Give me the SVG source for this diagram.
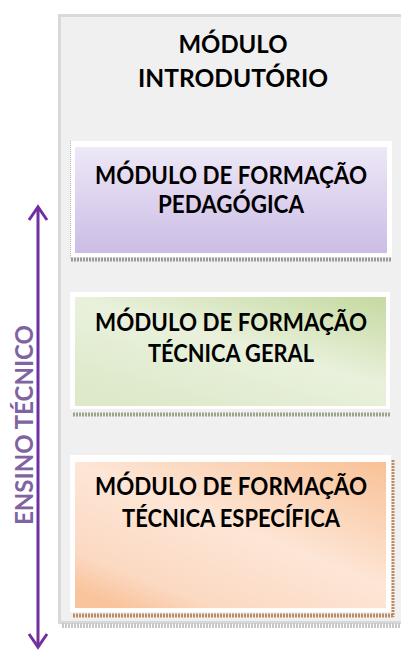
<svg xmlns="http://www.w3.org/2000/svg" width="401" height="650" viewBox="0 0 401 650">
<defs>
<style>
.t{font-family:Lato,"Liberation Sans",Arial,sans-serif;font-weight:bold;font-size:24px;fill:#000;text-anchor:middle}
.v{font-family:Lato,"Liberation Sans",Arial,sans-serif;font-weight:bold;font-size:24px;fill:#8064a2;text-anchor:middle}
.frame{fill:#fff}
.arrow{stroke:#7030a0;stroke-width:3;fill:none}
</style>
<linearGradient id="gp" x1="0" y1="0" x2="0" y2="1">
<stop offset="0" stop-color="#eee8f7"/>
<stop offset="1" stop-color="#cbbde5"/>
</linearGradient>
<linearGradient id="gg" x1="1" y1="0" x2="0.2" y2="1">
<stop offset="0" stop-color="#c5d9a0"/>
<stop offset="0.5" stop-color="#e9f1dc"/>
<stop offset="1" stop-color="#dde9c9"/>
</linearGradient>
<linearGradient id="go" x1="1" y1="0" x2="0.15" y2="1">
<stop offset="0" stop-color="#f9c196"/>
<stop offset="0.5" stop-color="#fde6d6"/>
<stop offset="0.85" stop-color="#fbd9c2"/>
<stop offset="1" stop-color="#f9c49c"/>
</linearGradient>
</defs>
<rect width="401" height="650" fill="#fff"/>
<g id="panel">
<rect x="59.5" y="15.5" width="345" height="607" fill="#f0f0f0" stroke="#d9d9d9" stroke-width="3"/>
<line x1="62" y1="625.5" x2="401" y2="625.5" stroke="#c8c8c8" stroke-width="5" stroke-dasharray="2 1"/>
<text class="t" x="233" y="53" textLength="109" lengthAdjust="spacingAndGlyphs">MÓDULO</text>
<text class="t" x="233" y="87" textLength="190" lengthAdjust="spacingAndGlyphs">INTRODUTÓRIO</text>
</g>
<g id="pedagogica">
<line x1="71" y1="259.5" x2="392" y2="259.5" stroke="#9a9a9a" stroke-width="4" stroke-dasharray="2 1"/>
<line x1="70.5" y1="141" x2="70.5" y2="258" stroke="#bbb" stroke-width="1" stroke-dasharray="1 1"/>
<rect class="frame" x="71" y="141" width="321" height="116"/>
<rect x="75" y="147" width="312" height="106" fill="url(#gp)"/>
<text class="t" x="231" y="184" textLength="272" lengthAdjust="spacingAndGlyphs">MÓDULO DE FORMAÇÃO</text>
<text class="t" x="231" y="213" textLength="146" lengthAdjust="spacingAndGlyphs">PEDAGÓGICA</text>
</g>
<g id="tecnica-geral">
<line x1="73" y1="414.5" x2="390" y2="414.5" stroke="#9aa58a" stroke-width="4" stroke-dasharray="2 1"/>
<rect class="frame" x="70" y="292" width="320" height="117"/>
<rect x="75" y="297" width="311" height="109" fill="url(#gg)"/>
<text class="t" x="231" y="331" textLength="272" lengthAdjust="spacingAndGlyphs">MÓDULO DE FORMAÇÃO</text>
<text class="t" x="231" y="362" textLength="166" lengthAdjust="spacingAndGlyphs">TÉCNICA GERAL</text>
</g>
<g id="tecnica-especifica">
<line x1="73" y1="615.5" x2="394" y2="615.5" stroke="#c08a60" stroke-width="4" stroke-dasharray="2 1"/>
<line x1="393" y1="460" x2="393" y2="617" stroke="#c08a60" stroke-width="3" stroke-dasharray="2 1"/>
<rect class="frame" x="70" y="455" width="321" height="157"/>
<rect x="75" y="462" width="311" height="146" fill="url(#go)"/>
<text class="t" x="231" y="495" textLength="272" lengthAdjust="spacingAndGlyphs">MÓDULO DE FORMAÇÃO</text>
<text class="t" x="231" y="527" textLength="218" lengthAdjust="spacingAndGlyphs">TÉCNICA ESPECÍFICA</text>
</g>
<g id="connectors">
<line class="arrow" x1="38" y1="207" x2="38" y2="647"/>
<polyline class="arrow" points="29,220 38,207 47,220"/>
<polyline class="arrow" points="29,634 38,647 47,634"/>
</g>
<g id="ensino-tecnico">
<text class="v" transform="translate(33,425) rotate(-90)" x="0" y="0" textLength="200" lengthAdjust="spacingAndGlyphs">ENSINO TÉCNICO</text>
</g>
</svg>
